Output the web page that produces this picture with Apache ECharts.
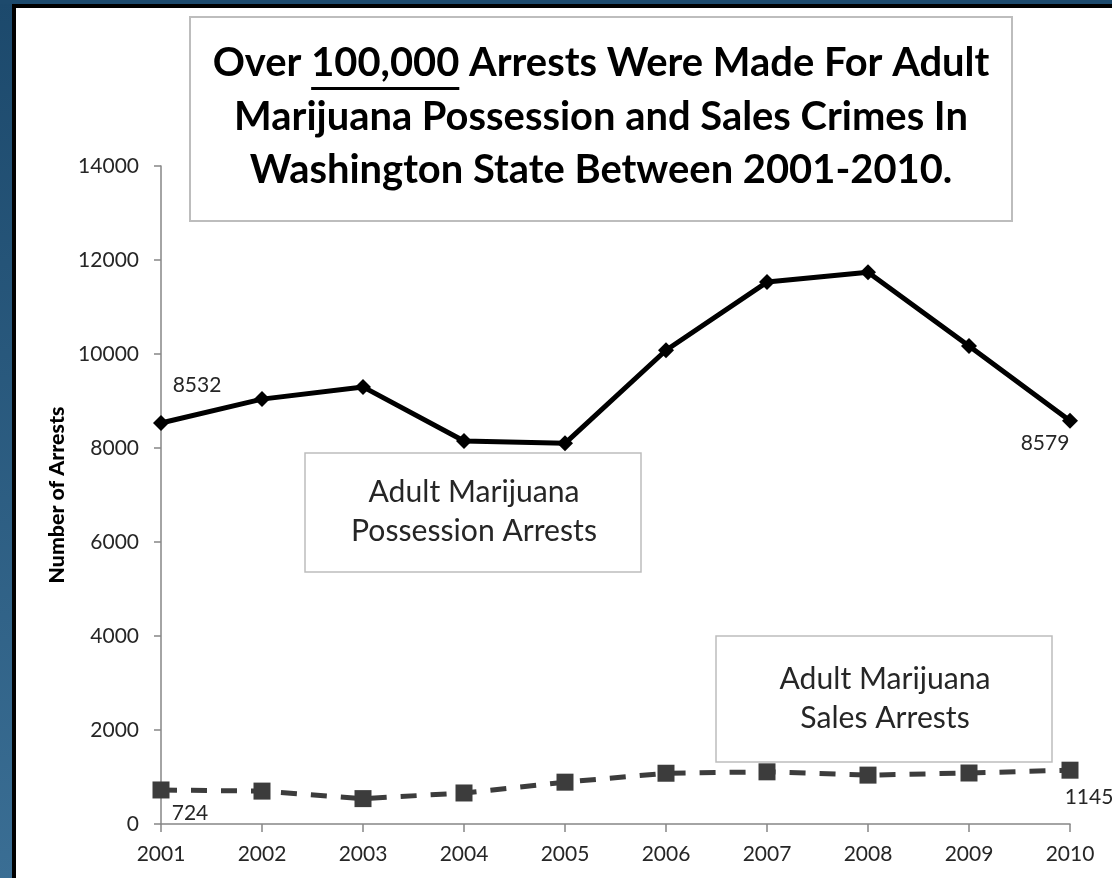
<!DOCTYPE html>
<html><head><meta charset="utf-8">
<script src="https://cdn.jsdelivr.net/npm/echarts@6/dist/echarts.min.js"></script>
<style>html,body{margin:0;padding:0;background:#fff}#c{width:1112px;height:878px}</style>
</head><body><div id="c"></div>
<script>
// ---- data ----
const years = ['2001','2002','2003','2004','2005','2006','2007','2008','2009','2010'];
const possession = [8532, 9040, 9300, 8150, 8100, 10080, 11530, 11740, 10170, 8579];
const sales = [724, 700, 540, 660, 890, 1080, 1110, 1040, 1085, 1145];
const yMin = 0, yMax = 14000, yStep = 2000;
const titlePre = 'Over ';
const titleUnder = '100,000';
const titlePost = ' Arrests Were Made For Adult';
const titleLine2 = 'Marijuana Possession and Sales Crimes In';
const titleLine3 = 'Washington State Between 2001-2010.';
const possBoxText = ['Adult Marijuana', 'Possession Arrests'];
const salesBoxText = ['Adult Marijuana', 'Sales Arrests'];
const yName = 'Number of Arrests';

// ---- helpers ----
const FF = 'Lato';
const cv = document.createElement('canvas').getContext('2d');
function tw(t, size, weight) { cv.font = (weight || 'normal') + ' ' + size + 'px ' + FF; return cv.measureText(t).width; }
function fit(t, target, weight) { return 40 * target / tw(t, 40, weight); }

const titleSize = fit(titlePre + titleUnder + titlePost, 777, 'bold');
const boxSize = fit(possBoxText[1], 246, 'normal');
const yNameSize = fit(yName, 176, 'bold');

const textColor = '#262626';
const graphics = [];
// blue frame strips
graphics.push({ type: 'rect', shape: { x: 0, y: 0, width: 12, height: 878 }, style: { fill: new echarts.graphic.LinearGradient(0, 0, 0, 1, [{ offset: 0, color: '#1c496c' }, { offset: 1, color: '#3a6e94' }]) }, silent: true });
graphics.push({ type: 'rect', shape: { x: 0, y: 0, width: 1112, height: 4 }, style: { fill: '#1d4a6d' }, silent: true });
graphics.push({ type: 'rect', shape: { x: 12, y: 4, width: 4, height: 874 }, style: { fill: '#000' }, silent: true });
graphics.push({ type: 'rect', shape: { x: 12, y: 4, width: 1100, height: 4 }, style: { fill: '#000' }, silent: true });

// title box
graphics.push({ type: 'rect', shape: { x: 190, y: 17, width: 822, height: 204 }, style: { fill: '#fff', stroke: '#bdbdbd', lineWidth: 2 }, silent: true });
const tcx = 601;
const wPre = tw(titlePre, titleSize, 'bold'), wU = tw(titleUnder, titleSize, 'bold'), wPost = tw(titlePost, titleSize, 'bold');
const x0 = tcx - (wPre + wU + wPost) / 2;
const baselines = [78, 132, 185];
const tFont = { fontFamily: FF, fontWeight: 'bold', fontSize: titleSize, fill: '#000' };
function midY(b, s) { return b - 0.36 * s; }
graphics.push({ type: 'text', x: x0, y: midY(baselines[0], titleSize), style: Object.assign({ text: titlePre, align: 'left', verticalAlign: 'middle' }, tFont), silent: true });
graphics.push({ type: 'text', x: x0 + wPre, y: midY(baselines[0], titleSize), style: Object.assign({ text: titleUnder, align: 'left', verticalAlign: 'middle' }, tFont), silent: true });
graphics.push({ type: 'text', x: x0 + wPre + wU, y: midY(baselines[0], titleSize), style: Object.assign({ text: titlePost, align: 'left', verticalAlign: 'middle' }, tFont), silent: true });
graphics.push({ type: 'rect', shape: { x: x0 + wPre, y: 87, width: wU, height: 3 }, style: { fill: '#000' }, silent: true });
graphics.push({ type: 'text', x: tcx, y: midY(baselines[1], titleSize), style: Object.assign({ text: titleLine2, align: 'center', verticalAlign: 'middle' }, tFont), silent: true });
graphics.push({ type: 'text', x: tcx, y: midY(baselines[2], titleSize), style: Object.assign({ text: titleLine3, align: 'center', verticalAlign: 'middle' }, tFont), silent: true });

// annotation boxes
function box(x, y, w, h, lines, b1, b2) {
  graphics.push({ type: 'rect', shape: { x: x, y: y, width: w, height: h }, style: { fill: '#fff', stroke: '#bdbdbd', lineWidth: 1.5 }, silent: true });
  const cx = x + w / 2 + 1;
  [b1, b2].forEach((b, i) => {
    graphics.push({ type: 'text', x: cx, y: midY(b, boxSize), style: { text: lines[i], align: 'center', verticalAlign: 'middle', fontFamily: FF, fontSize: boxSize, fill: textColor }, silent: true });
  });
}
box(305, 453, 336, 119, possBoxText, 503, 542);
box(716, 636, 336, 126, salesBoxText, 690, 729);

function labeled(arr, cfg) {
  return arr.map((v, i) => {
    const c = cfg[i];
    if (!c) return v;
    return { value: v, label: { show: true, position: 'inside', offset: c, color: textColor, fontFamily: FF, fontSize: 21 } };
  });
}

const option = {
  backgroundColor: '#fff',
  animation: false,
  graphic: graphics,
  grid: { left: 161, right: 42, top: 166, bottom: 54 },
  xAxis: {
    type: 'category', data: years, boundaryGap: false,
    axisLine: { lineStyle: { color: '#868686', width: 1.5 } },
    axisTick: { show: true, length: 8, lineStyle: { color: '#868686', width: 1.5 } },
    axisLabel: { color: textColor, fontFamily: FF, fontSize: 21, margin: 20 }
  },
  yAxis: {
    type: 'value', min: yMin, max: yMax, interval: yStep,
    name: yName, nameLocation: 'middle', nameGap: 90,
    nameTextStyle: { fontFamily: FF, fontWeight: 900, fontSize: yNameSize, color: '#000' },
    axisLine: { show: true, lineStyle: { color: '#868686', width: 1.5 } },
    axisTick: { show: true, length: 7, lineStyle: { color: '#868686', width: 1.5 } },
    axisLabel: { color: textColor, fontFamily: FF, fontSize: 21, margin: 22, formatter: v => String(v) },
    splitLine: { show: false }
  },
  series: [
    {
      type: 'line', data: labeled(possession, { 0: [36, -38], 9: [-25, 22] }),
      symbol: 'diamond', symbolSize: 16,
      itemStyle: { color: '#000' },
      lineStyle: { color: '#000', width: 5 },
      z: 5
    },
    {
      type: 'line', data: labeled(sales, { 0: [29, 23], 9: [19, 27] }),
      symbol: 'rect', symbolSize: 17,
      itemStyle: { color: '#3c3c3c' },
      lineStyle: { color: '#3c3c3c', width: 5, type: [16, 14] },
      z: 4
    }
  ]
};
const chart = echarts.init(document.getElementById('c'), null, { renderer: 'canvas' });
chart.setOption(option);
</script>
</body></html>
